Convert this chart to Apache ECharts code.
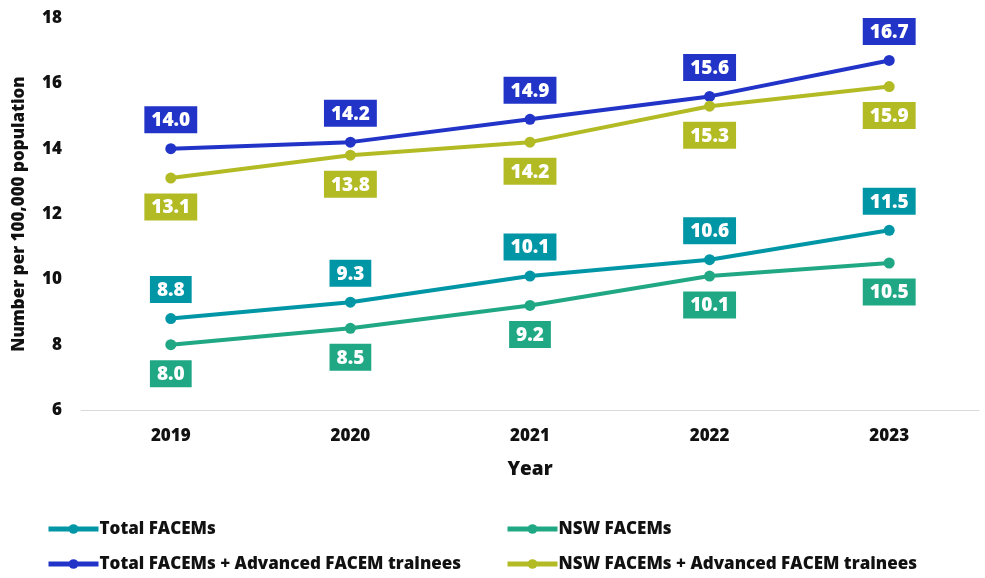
<!DOCTYPE html>
<html>
<head>
<meta charset="utf-8">
<script src="https://cdn.jsdelivr.net/npm/echarts@6/dist/echarts.min.js"></script>
<style>
  html, body { margin: 0; padding: 0; background: #fff; }
  #chart { width: 985px; height: 578px; }
</style>
</head>
<body>
<div id="chart"></div>
<script>
const years = ['2019', '2020', '2021', '2022', '2023'];
const totalFacems = [8.8, 9.3, 10.1, 10.6, 11.5];
const nswFacems = [8.0, 8.5, 9.2, 10.1, 10.5];
const totalPlusTrainees = [14.0, 14.2, 14.9, 15.6, 16.7];
const nswPlusTrainees = [13.1, 13.8, 14.2, 15.3, 15.9];

const FONT = '"Open Sans", sans-serif';
const chart = echarts.init(document.getElementById('chart'));

function makeSeries(name, data, color, pos) {
  return {
    name: name,
    type: 'line',
    data: data,
    symbol: 'circle',
    symbolSize: 11,
    lineStyle: { width: 4, color: color },
    itemStyle: { color: color },
    label: {
      show: true,
      position: pos,
      distance: 10,
      formatter: p => p.value.toFixed(1),
      backgroundColor: color,
      color: '#fff',
      fontFamily: FONT,
      fontWeight: 800,
      fontSize: 19,
      padding: [5, 7, 3, 7]
    }
  };
}

const legendText = {
  fontFamily: FONT, fontWeight: 800, fontSize: 17, lineHeight: 20,
  color: '#111', padding: [0, 0, 0, -4]
};

const option = {
  animation: false,
  grid: { left: 81, right: 6, top: 18, bottom: 168 },
  legend: [
    {
      orient: 'vertical',
      left: 46, top: 519, height: 58,
      padding: 0,
      itemGap: 15,
      itemWidth: 50, itemHeight: 12,
      lineStyle: { width: 5 },
      data: ['Total FACEMs', 'Total FACEMs + Advanced FACEM trainees'],
      textStyle: legendText
    },
    {
      orient: 'vertical',
      left: 505, top: 519, height: 58,
      padding: 0,
      itemGap: 15,
      itemWidth: 50, itemHeight: 12,
      lineStyle: { width: 5 },
      data: ['NSW FACEMs', 'NSW FACEMs + Advanced FACEM trainees'],
      textStyle: legendText
    }
  ],
  xAxis: {
    type: 'category',
    data: years,
    name: 'Year',
    nameLocation: 'middle',
    nameGap: 50,
    nameTextStyle: { fontFamily: FONT, fontWeight: 800, fontSize: 19, color: '#111' },
    axisLine: { lineStyle: { color: '#d9d9d9', width: 1 } },
    axisTick: { show: false },
    axisLabel: { fontFamily: FONT, fontWeight: 800, fontSize: 17, color: '#111', margin: 18 }
  },
  yAxis: {
    type: 'value',
    min: 6, max: 18, interval: 2,
    name: 'Number per 100,000 population',
    nameLocation: 'middle',
    nameGap: 53,
    nameTextStyle: { fontFamily: FONT, fontWeight: 800, fontSize: 17, color: '#111' },
    axisLine: { show: false },
    axisTick: { show: false },
    splitLine: { show: false },
    axisLabel: { fontFamily: FONT, fontWeight: 800, fontSize: 17, color: '#111', margin: 19 }
  },
  series: [
    makeSeries('Total FACEMs', totalFacems, '#0096A6', 'top'),
    makeSeries('NSW FACEMs', nswFacems, '#20A884', 'bottom'),
    makeSeries('Total FACEMs + Advanced FACEM trainees', totalPlusTrainees, '#2234C8', 'top'),
    makeSeries('NSW FACEMs + Advanced FACEM trainees', nswPlusTrainees, '#B3BB24', 'bottom')
  ]
};

chart.setOption(option);
</script>
</body>
</html>
